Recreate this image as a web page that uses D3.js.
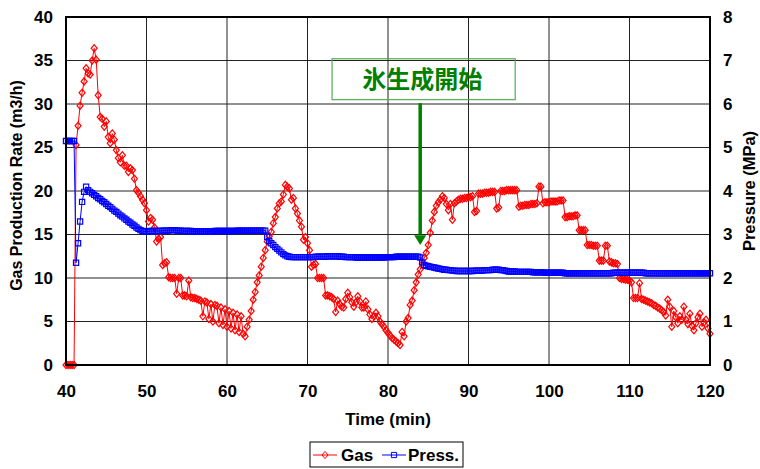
<!DOCTYPE html>
<html>
<head>
<meta charset="utf-8">
<script src="https://cdn.jsdelivr.net/npm/d3@7"></script>
<style>
  html, body { margin: 0; padding: 0; background: #fff; }
  svg { display: block; font-family: "Liberation Sans", Arial, sans-serif; }
</style>
</head>
<body>
<svg id="chart" width="760" height="469"></svg>
<script>
// Readings were logged every 15 s (0.25 min) from 40 to 120 min.
const sampleStart = 40;
const sampleStep = 0.25;

// Gas production rate (m3/h), one value per reading, four per minute row.
const gasRate = [
  0, 0, 0, 0,                 // 40
  0, 25.3, 27.5, 29.8,        // 41
  31.3, 32.6, 34.1, 33.5,     // 42
  33.4, 35.0, 36.4, 35.1,     // 43
  31.0, 28.5, 28.3, 27.4,     // 44
  28.0, 26.2, 25.5, 26.6,     // 45
  25.9, 24.7, 23.8, 23.3,     // 46
  24.1, 22.9, 22.9, 22.2,     // 47
  22.6, 22.4, 21.4, 20.1,     // 48
  19.8, 19.4, 19.0, 18.6,     // 49
  17.8, 16.5, 16.9, 16.7,     // 50
  15.8, 14.2, 14.5, 14.7,     // 51
  11.5, 11.7, 11.8, 10.1,     // 52
  10.0, 10.0, 10.0, 8.2,      // 53
  10.0, 10.0, 8.0, 8.0,       // 54
  7.9, 9.7, 7.8, 7.7,         // 55
  7.7, 7.6, 7.5, 7.4,         // 56
  5.6, 7.3, 7.2, 5.3,         // 57
  7.0, 5.0, 6.9, 6.8,         // 58
  4.8, 6.6, 4.6, 6.4,         // 59
  4.4, 6.2, 4.2, 6.0,         // 60
  4.0, 5.8, 3.8, 5.6,         // 61
  3.6, 3.3, 4.4, 5.2,         // 62
  6.2, 7.5, 8.4, 9.5,         // 63
  10.3, 11.3, 12.3, 13.2,     // 64
  14.2, 14.8, 15.3, 16.3,     // 65
  17.0, 18.0, 18.6, 18.8,     // 66
  19.6, 20.7, 20.5, 20.3,     // 67
  19.0, 19.2, 18.0, 17.4,     // 68
  16.6, 15.9, 14.4, 14.7,     // 69
  14.0, 13.2, 11.3, 11.5,     // 70
  11.6, 10.0, 10.0, 10.0,     // 71
  10.0, 8.0, 8.0, 7.9,        // 72
  7.8, 7.6, 6.1, 7.4,         // 73
  7.0, 6.7, 6.6, 7.6,         // 74
  8.3, 7.8, 7.2, 6.7,         // 75
  7.2, 7.9, 7.3, 6.6,         // 76
  6.6, 7.3, 6.4, 5.8,         // 77
  5.3, 5.6, 6.0, 5.6,         // 78
  5.0, 4.7, 4.4, 4.0,         // 79
  3.7, 3.4, 3.1, 2.9,         // 80
  2.7, 2.5, 2.3, 3.8,         // 81
  3.3, 5.0, 5.4, 6.9,         // 82
  7.4, 8.6, 9.5, 10.4,        // 83
  11.0, 11.6, 12.3, 12.9,     // 84
  13.8, 15.2, 16.6, 17.6,     // 85
  18.3, 18.7, 19.0, 19.4,     // 86
  19.2, 18.5, 17.8, 18.5,     // 87
  16.7, 18.6, 18.8, 19.0,     // 88
  19.1, 19.1, 19.2, 19.2,     // 89
  19.3, 19.3, 19.4, 17.6,     // 90
  17.7, 19.7, 19.7, 19.7,     // 91
  19.8, 19.8, 19.8, 19.9,     // 92
  19.9, 19.9, 18.0, 18.1,     // 93
  20.0, 20.0, 20.0, 20.1,     // 94
  20.1, 20.1, 20.1, 20.1,     // 95
  20.1, 18.2, 18.3, 18.3,     // 96
  18.4, 18.4, 18.4, 18.5,     // 97
  18.5, 18.5, 18.6, 20.5,     // 98
  20.5, 18.6, 18.7, 18.7,     // 99
  18.7, 18.8, 18.8, 18.8,     // 100
  18.8, 18.9, 18.9, 18.9,     // 101
  17.0, 17.0, 17.1, 17.1,     // 102
  17.1, 17.2, 17.2, 15.5,     // 103
  15.5, 15.5, 15.5, 13.8,     // 104
  13.8, 13.8, 13.7, 13.7,     // 105
  13.7, 12.0, 12.0, 12.0,     // 106
  13.7, 13.7, 11.9, 11.8,     // 107
  11.7, 11.7, 11.6, 10.0,     // 108
  9.9, 9.9, 9.8, 9.8,         // 109
  9.7, 9.5, 7.7, 7.7,         // 110
  7.7, 9.4, 7.6, 7.5,         // 111
  7.4, 7.3, 7.2, 7.1,         // 112
  6.9, 6.8, 6.6, 6.5,         // 113
  6.3, 6.1, 5.7, 7.5,         // 114
  6.7, 4.4, 6.2, 5.5,         // 115
  4.8, 5.6, 5.2, 6.7,         // 116
  5.2, 4.7, 5.9, 4.5,         // 117
  4.0, 4.8, 5.5, 5.9,         // 118
  4.4, 4.9, 5.2, 4.2,         // 119
  3.6                         // 120
];

// Pressure (MPa), same readings.
const pressure = [
  5.15, 5.15, 5.15, 5.15,     // 40
  5.15, 2.35, 2.80, 3.30,     // 41
  3.75, 3.98, 4.10, 4.02,     // 42
  3.98, 3.95, 3.91, 3.88,     // 43
  3.84, 3.81, 3.77, 3.74,     // 44
  3.70, 3.66, 3.63, 3.59,     // 45
  3.55, 3.52, 3.48, 3.44,     // 46
  3.41, 3.37, 3.34, 3.30,     // 47
  3.27, 3.23, 3.20, 3.16,     // 48
  3.13, 3.10, 3.08, 3.07,     // 49
  3.07, 3.07, 3.08, 3.08,     // 50
  3.08, 3.08, 3.08, 3.08,     // 51
  3.09, 3.09, 3.09, 3.09,     // 52
  3.10, 3.10, 3.10, 3.09,     // 53
  3.09, 3.09, 3.08, 3.08,     // 54
  3.08, 3.08, 3.08, 3.07,     // 55
  3.07, 3.07, 3.07, 3.07,     // 56
  3.07, 3.07, 3.07, 3.07,     // 57
  3.07, 3.07, 3.08, 3.08,     // 58
  3.08, 3.08, 3.08, 3.08,     // 59
  3.08, 3.08, 3.08, 3.08,     // 60
  3.08, 3.09, 3.09, 3.09,     // 61
  3.09, 3.09, 3.09, 3.09,     // 62
  3.09, 3.09, 3.09, 3.09,     // 63
  3.09, 3.09, 3.09, 3.09,     // 64
  2.95, 2.85, 2.80, 2.76,     // 65
  2.71, 2.67, 2.63, 2.59,     // 66
  2.55, 2.52, 2.50, 2.49,     // 67
  2.48, 2.48, 2.48, 2.48,     // 68
  2.48, 2.48, 2.48, 2.48,     // 69
  2.48, 2.48, 2.48, 2.48,     // 70
  2.49, 2.49, 2.49, 2.49,     // 71
  2.49, 2.49, 2.50, 2.50,     // 72
  2.50, 2.50, 2.50, 2.50,     // 73
  2.49, 2.49, 2.49, 2.48,     // 74
  2.48, 2.48, 2.48, 2.48,     // 75
  2.47, 2.47, 2.47, 2.47,     // 76
  2.47, 2.47, 2.47, 2.47,     // 77
  2.47, 2.47, 2.47, 2.47,     // 78
  2.47, 2.47, 2.47, 2.48,     // 79
  2.48, 2.48, 2.48, 2.48,     // 80
  2.49, 2.49, 2.49, 2.49,     // 81
  2.49, 2.49, 2.49, 2.49,     // 82
  2.49, 2.49, 2.49, 2.49,     // 83
  2.47, 2.36, 2.30, 2.28,     // 84
  2.27, 2.26, 2.25, 2.24,     // 85
  2.23, 2.22, 2.21, 2.20,     // 86
  2.19, 2.19, 2.18, 2.18,     // 87
  2.17, 2.17, 2.16, 2.16,     // 88
  2.16, 2.16, 2.16, 2.16,     // 89
  2.16, 2.16, 2.16, 2.17,     // 90
  2.17, 2.17, 2.17, 2.17,     // 91
  2.18, 2.18, 2.18, 2.18,     // 92
  2.19, 2.19, 2.19, 2.19,     // 93
  2.18, 2.18, 2.17, 2.16,     // 94
  2.15, 2.15, 2.15, 2.15,     // 95
  2.14, 2.14, 2.14, 2.14,     // 96
  2.14, 2.14, 2.14, 2.14,     // 97
  2.13, 2.13, 2.13, 2.13,     // 98
  2.13, 2.13, 2.12, 2.12,     // 99
  2.12, 2.12, 2.12, 2.12,     // 100
  2.12, 2.12, 2.12, 2.12,     // 101
  2.11, 2.11, 2.11, 2.11,     // 102
  2.11, 2.11, 2.11, 2.11,     // 103
  2.11, 2.11, 2.11, 2.11,     // 104
  2.11, 2.11, 2.11, 2.11,     // 105
  2.11, 2.11, 2.11, 2.11,     // 106
  2.11, 2.11, 2.11, 2.11,     // 107
  2.12, 2.12, 2.12, 2.12,     // 108
  2.12, 2.12, 2.12, 2.12,     // 109
  2.12, 2.12, 2.12, 2.12,     // 110
  2.12, 2.12, 2.12, 2.12,     // 111
  2.11, 2.11, 2.11, 2.11,     // 112
  2.11, 2.11, 2.11, 2.11,     // 113
  2.11, 2.11, 2.11, 2.11,     // 114
  2.11, 2.11, 2.11, 2.11,     // 115
  2.11, 2.11, 2.11, 2.11,     // 116
  2.11, 2.11, 2.11, 2.11,     // 117
  2.11, 2.11, 2.11, 2.11,     // 118
  2.11, 2.11, 2.11, 2.11,     // 119
  2.11                        // 120
];

const timeTicks = [40, 50, 60, 70, 80, 90, 100, 110, 120];
const gasTicks = [0, 5, 10, 15, 20, 25, 30, 35, 40];
const pressTicks = [0, 1, 2, 3, 4, 5, 6, 7, 8];

const seriesNames = ["Gas", "Press."];
const annotationText = "氷生成開始";
const annotationTime = 84;

// ---- layout ----
const svg = d3.select("#chart");
const plot = { left: 66, right: 710, top: 17, bottom: 365 };

const x = d3.scaleLinear().domain([40, 120]).range([plot.left, plot.right]);
const yGas = d3.scaleLinear().domain([0, 40]).range([plot.bottom, plot.top]);
const yPress = d3.scaleLinear().domain([0, 8]).range([plot.bottom, plot.top]);

const timeOf = i => sampleStart + i * sampleStep;
const gasData = gasRate.map((v, i) => ({ t: timeOf(i), v }));
const pressData = pressure.map((v, i) => ({ t: timeOf(i), v }));

// ---- grid ----
const grid = svg.append("g").attr("class", "grid");
grid.selectAll("line.v").data(timeTicks.slice(1, -1)).join("line")
  .attr("x1", d => x(d)).attr("x2", d => x(d))
  .attr("y1", plot.top).attr("y2", plot.bottom)
  .attr("stroke", "#222").attr("stroke-width", 1);
grid.selectAll("line.h").data(gasTicks.slice(1, -1)).join("line")
  .attr("x1", plot.left).attr("x2", plot.right)
  .attr("y1", d => yGas(d)).attr("y2", d => yGas(d))
  .attr("stroke", "#222").attr("stroke-width", 1);

// ---- axes ----
const tickFont = g => g.selectAll("text")
  .attr("font-size", 17).attr("font-weight", "bold").attr("fill", "#000")
  .attr("font-family", "'Liberation Sans', Arial, sans-serif");

svg.append("g")
  .attr("transform", `translate(0,${plot.bottom})`)
  .call(d3.axisBottom(x).tickValues(timeTicks).tickSize(0).tickPadding(20))
  .call(g => g.select(".domain").remove())
  .call(tickFont);

svg.append("g")
  .attr("transform", `translate(${plot.left},0)`)
  .call(d3.axisLeft(yGas).tickValues(gasTicks).tickSize(0).tickPadding(13))
  .call(g => g.select(".domain").remove())
  .call(tickFont);

svg.append("g")
  .attr("transform", `translate(${plot.right},0)`)
  .call(d3.axisRight(yPress).tickValues(pressTicks).tickSize(0).tickPadding(13))
  .call(g => g.select(".domain").remove())
  .call(tickFont);

// axis titles
svg.append("text")
  .attr("x", (plot.left + plot.right) / 2).attr("y", 425)
  .attr("text-anchor", "middle").attr("font-size", 17).attr("font-weight", "bold")
  .text("Time (min)");

svg.append("text")
  .attr("transform", "translate(21.5,185.5) rotate(-90)")
  .attr("text-anchor", "middle").attr("font-size", 16).attr("font-weight", "bold")
  .text("Gas Production Rate (m3/h)");

svg.append("text")
  .attr("transform", "translate(755,191) rotate(-90)")
  .attr("text-anchor", "middle").attr("font-size", 16.5).attr("font-weight", "bold")
  .text("Pressure (MPa)");

// ---- series ----
const diamond = "M0,-3.6L3,0L0,3.6L-3,0Z";
const square = "M-2.6,-2.6H2.6V2.6H-2.6Z";

function drawSeries(data, yScale, color, shape) {
  const g = svg.append("g");
  g.append("path")
    .datum(data)
    .attr("fill", "none").attr("stroke", color).attr("stroke-width", 1)
    .attr("d", d3.line().x(d => x(d.t)).y(d => yScale(d.v)));
  g.selectAll("path.m").data(data).join("path")
    .attr("class", "m")
    .attr("transform", d => `translate(${x(d.t)},${yScale(d.v)})`)
    .attr("d", shape)
    .attr("fill", "none").attr("stroke", color).attr("stroke-width", 1.2);
}

drawSeries(gasData, yGas, "#ff0000", diamond);
drawSeries(pressData, yPress, "#0000ff", square);

// ---- plot frame ----
svg.append("rect")
  .attr("x", plot.left).attr("y", plot.top)
  .attr("width", plot.right - plot.left).attr("height", plot.bottom - plot.top)
  .attr("fill", "none").attr("stroke", "#000").attr("stroke-width", 2);

// ---- annotation: onset of hydrate formation ----
const ann = svg.append("g");
ann.append("rect")
  .attr("x", x(73.05)).attr("y", yGas(35.2))
  .attr("width", x(95.8) - x(73.05)).attr("height", yGas(30.5) - yGas(35.2))
  .attr("fill", "none").attr("stroke", "#55aa55").attr("stroke-width", 1.2);
ann.append("text")
  .attr("x", x(annotationTime) + 2).attr("y", yGas(32.85))
  .attr("dy", "0.36em")
  .attr("text-anchor", "middle")
  .attr("font-family", "'Noto Sans CJK JP', sans-serif")
  .attr("font-size", 24).attr("font-weight", "bold").attr("fill", "#008000")
  .text(annotationText);
const ax = x(annotationTime);
ann.append("line")
  .attr("x1", ax).attr("x2", ax)
  .attr("y1", yGas(30.1)).attr("y2", yGas(15.0))
  .attr("stroke", "#008000").attr("stroke-width", 3.5);
ann.append("path")
  .attr("d", `M${ax - 6},${yGas(14.9)}L${ax + 6},${yGas(14.9)}L${ax},${yGas(13.8)}Z`)
  .attr("fill", "#008000");

// ---- legend ----
const lg = svg.append("g");
lg.append("rect").attr("x", 310).attr("y", 442).attr("width", 153).attr("height", 25)
  .attr("fill", "#fff").attr("stroke", "#000").attr("stroke-width", 1);
const legendItems = [
  { name: seriesNames[0], color: "#ff0000", shape: diamond, x0: 313, tx: 341 },
  { name: seriesNames[1], color: "#0000ff", shape: square, x0: 382, tx: 408 }
];
legendItems.forEach(it => {
  lg.append("line").attr("x1", it.x0).attr("x2", it.x0 + 24)
    .attr("y1", 455).attr("y2", 455).attr("stroke", it.color).attr("stroke-width", 1);
  lg.append("path").attr("transform", `translate(${it.x0 + 12},455)`)
    .attr("d", it.shape).attr("fill", "none").attr("stroke", it.color);
  lg.append("text").attr("x", it.tx).attr("y", 461)
    .attr("font-size", 17).attr("font-weight", "bold").text(it.name);
});
</script>
</body>
</html>
